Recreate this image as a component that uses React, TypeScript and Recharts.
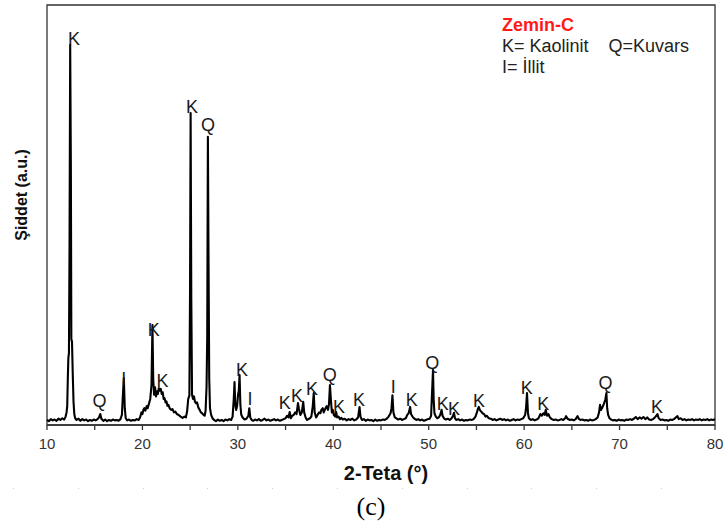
import { ComposedChart, Line, Scatter, XAxis, YAxis, ReferenceArea } from 'recharts';

// XRD scan, 2-theta vs intensity (a.u.)
const scanLowAngle: [number, number][] = [
  [10.0, 12], [10.2, 9], [10.4, 14], [10.6, 11], [10.8, 13], [11.0, 10], [11.2, 15], [11.4, 12],
  [11.6, 16], [11.8, 13], [11.95, 20], [12.05, 30], [12.12, 45], [12.18, 110], [12.24, 160],
  [12.3, 172], [12.36, 420], [12.43, 905], [12.5, 620], [12.55, 205], [12.62, 198], [12.7, 120],
  [12.78, 55], [12.86, 26], [12.95, 16], [13.1, 12], [13.3, 15], [13.5, 10], [13.7, 14], [13.9, 11],
  [14.1, 13], [14.3, 9], [14.5, 12], [14.7, 10], [14.9, 13], [15.1, 11], [15.3, 14], [15.45, 18],
  [15.58, 26], [15.7, 15], [15.9, 10], [16.1, 13], [16.3, 9], [16.5, 12], [16.7, 10], [16.9, 13],
  [17.1, 11], [17.3, 12], [17.5, 10], [17.7, 14], [17.85, 24], [17.95, 70], [18.05, 112], [18.15, 40],
  [18.25, 16], [18.4, 11], [18.6, 13], [18.8, 10], [19.0, 12], [19.2, 11], [19.4, 14], [19.6, 12],
  [19.75, 18], [19.9, 30],
];

const scanMainPeaks: [number, number][] = [
  [20.0, 26], [20.1, 36], [20.2, 40], [20.3, 34], [20.45, 45], [20.55, 40], [20.7, 52], [20.82, 62],
  [20.95, 95], [21.05, 238], [21.13, 110], [21.22, 72], [21.32, 90], [21.42, 68], [21.52, 80],
  [21.62, 74], [21.72, 88], [21.82, 82], [21.92, 86], [22.02, 74], [22.12, 78], [22.22, 62],
  [22.32, 64], [22.42, 54], [22.52, 56], [22.62, 46], [22.72, 48], [22.85, 40], [23.0, 36],
  [23.15, 38], [23.3, 30], [23.45, 32], [23.6, 26], [23.8, 24], [24.0, 20], [24.2, 17], [24.4, 20],
  [24.55, 18], [24.68, 32], [24.8, 62], [24.92, 70], [24.99, 320], [25.05, 743], [25.12, 300],
  [25.2, 72], [25.3, 62], [25.4, 68], [25.5, 56], [25.6, 52], [25.72, 54], [25.85, 42], [26.0, 36],
  [26.12, 30], [26.25, 28], [26.4, 24], [26.52, 22], [26.62, 34], [26.72, 92], [26.79, 210],
  [26.86, 686], [26.93, 380], [27.0, 110], [27.08, 40], [27.2, 24], [27.35, 16], [27.5, 12],
  [27.7, 9], [27.9, 13], [28.1, 10], [28.3, 12], [28.5, 9], [28.7, 13], [28.9, 11], [29.1, 14],
  [29.3, 12], [29.45, 20], [29.57, 62], [29.65, 102], [29.73, 48], [29.82, 36], [29.92, 45],
  [30.02, 72], [30.1, 82], [30.18, 119], [30.26, 50], [30.35, 25], [30.5, 18], [30.7, 13], [30.9, 15],
];

const scanMid: [number, number][] = [
  [31.1, 22], [31.2, 40], [31.3, 18], [31.45, 12], [31.6, 10], [31.8, 13], [32.0, 11], [32.2, 14],
  [32.4, 10], [32.6, 12], [32.8, 15], [33.0, 11], [33.2, 13], [33.4, 10], [33.6, 12], [33.8, 14],
  [34.0, 11], [34.2, 13], [34.4, 10], [34.6, 12], [34.8, 14], [35.0, 16], [35.15, 22], [35.3, 18],
  [35.43, 31], [35.55, 16], [35.7, 22], [35.85, 24], [36.0, 30], [36.15, 26], [36.3, 52], [36.4, 38],
  [36.55, 24], [36.7, 30], [36.85, 55], [36.95, 30], [37.1, 18], [37.25, 12], [37.4, 14], [37.55, 16],
  [37.7, 20], [37.85, 45], [37.95, 76], [38.05, 30], [38.2, 18], [38.35, 24], [38.5, 30], [38.65, 28],
  [38.75, 36], [38.9, 40], [39.0, 30], [39.15, 38], [39.3, 45], [39.45, 36], [39.55, 50], [39.65, 95],
  [39.75, 60], [39.85, 30], [39.95, 36], [40.05, 24], [40.2, 20], [40.3, 31], [40.4, 18], [40.55, 20],
  [40.7, 14], [40.85, 17], [41.0, 13], [41.2, 15], [41.4, 11], [41.6, 14], [41.8, 12], [42.0, 15],
  [42.2, 11], [42.4, 13], [42.6, 18], [42.75, 43], [42.85, 20], [43.0, 12], [43.2, 14], [43.4, 10],
  [43.6, 13], [43.8, 11], [44.0, 12], [44.2, 9], [44.4, 13], [44.6, 10], [44.8, 12], [45.0, 11],
  [45.2, 13], [45.4, 12], [45.6, 15], [45.8, 20], [46.0, 28], [46.1, 40], [46.2, 71], [46.3, 30],
  [46.45, 18], [46.6, 16], [46.8, 13], [47.0, 15], [47.2, 12], [47.4, 14], [47.6, 16], [47.75, 24],
  [47.9, 28], [48.05, 43], [48.15, 26], [48.3, 20], [48.5, 15], [48.7, 12], [48.9, 14], [49.1, 11],
  [49.3, 13], [49.5, 10], [49.7, 12], [49.9, 14],
];

const scanHigh: [number, number][] = [
  [50.1, 15], [50.25, 22], [50.35, 78], [50.45, 131], [50.52, 60], [50.6, 28], [50.75, 20], [50.9, 16],
  [51.05, 18], [51.2, 24], [51.35, 36], [51.45, 22], [51.6, 16], [51.8, 13], [52.0, 15], [52.2, 12],
  [52.4, 16], [52.55, 22], [52.65, 29], [52.75, 16], [52.9, 12], [53.1, 14], [53.3, 11], [53.5, 13],
  [53.7, 10], [53.9, 12], [54.1, 11], [54.3, 13], [54.5, 12], [54.7, 14], [54.9, 20], [55.05, 30],
  [55.15, 38], [55.25, 43], [55.35, 36], [55.5, 32], [55.65, 28], [55.8, 26], [55.95, 20], [56.1, 22],
  [56.3, 16], [56.5, 15], [56.7, 12], [56.9, 14], [57.1, 11], [57.3, 13], [57.5, 15], [57.7, 12],
  [57.9, 14], [58.1, 11], [58.3, 13], [58.5, 10], [58.7, 12], [58.9, 14], [59.1, 11], [59.3, 13],
  [59.5, 12], [59.7, 14], [59.9, 16], [60.1, 24], [60.2, 40], [60.3, 76], [60.4, 28], [60.5, 16],
  [60.7, 12], [60.9, 14], [61.1, 11], [61.3, 13], [61.5, 16], [61.7, 26], [61.85, 22], [62.0, 28],
  [62.15, 24], [62.26, 36], [62.4, 22], [62.55, 26], [62.7, 18], [62.9, 14], [63.1, 12], [63.3, 13],
  [63.5, 11], [63.7, 12], [63.9, 14], [64.1, 12], [64.3, 16], [64.4, 21], [64.55, 15], [64.8, 12],
  [65.0, 13], [65.2, 11], [65.4, 14], [65.6, 21], [65.75, 14], [65.9, 12], [66.1, 13], [66.3, 11],
  [66.5, 12], [66.7, 10], [66.9, 13], [67.1, 11], [67.3, 12], [67.5, 14], [67.7, 18], [67.85, 30],
  [67.95, 48], [68.05, 36], [68.2, 42], [68.35, 50], [68.5, 60], [68.62, 76], [68.7, 40], [68.8, 24],
  [68.95, 16], [69.1, 13], [69.3, 11], [69.5, 12], [69.7, 10], [69.9, 13], [70.1, 11], [70.3, 12],
  [70.5, 10], [70.7, 13], [70.9, 12], [71.1, 14], [71.3, 12], [71.5, 15], [71.7, 19], [71.9, 14],
  [72.1, 18], [72.3, 15], [72.5, 19], [72.7, 14], [72.9, 18], [73.1, 13], [73.3, 12], [73.5, 14],
  [73.7, 18], [73.85, 22], [73.97, 26], [74.1, 16], [74.3, 12], [74.5, 13], [74.7, 11], [74.9, 12],
  [75.1, 10], [75.3, 13], [75.5, 12], [75.7, 14], [75.9, 18], [76.07, 21], [76.2, 14], [76.4, 16],
  [76.6, 12], [76.8, 14], [77.0, 11], [77.2, 13], [77.4, 12], [77.6, 14], [77.8, 11], [78.0, 13],
  [78.2, 12], [78.4, 14], [78.6, 11], [78.8, 13], [79.0, 12], [79.2, 14], [79.4, 11], [79.6, 13],
  [79.8, 12], [80.0, 14],
];

// peak labels: mineral letter, label anchor (2-theta, intensity of text baseline)
const peakMinerals = ['K', 'Q', 'I', 'K', 'K', 'K', 'Q', 'K', 'I', 'K', 'K', 'K', 'Q', 'K', 'K', 'I', 'K', 'Q', 'K', 'K', 'K', 'K', 'K', 'Q', 'K'];
const peakAngles = [12.83, 15.5, 18.05, 21.2, 22.1, 25.2, 26.87, 30.43, 31.27, 34.92, 36.2, 37.77, 39.62, 40.6, 42.7, 46.29, 48.22, 50.36, 51.48, 52.65, 55.27, 60.27, 62.01, 68.53, 73.92];
const peakLabelLevels = [905, 43, 95, 212, 90, 743, 700, 117, 48, 38, 55, 71, 105, 29, 45, 76, 45, 133, 36, 24, 44, 74, 36, 86, 29];

const xTicks = [10, 15, 20, 25, 30, 35, 40, 45, 50, 55, 60, 65, 70, 75, 80];

const scan = [...scanLowAngle, ...scanMainPeaks, ...scanMid, ...scanHigh].map(([x, y]) => ({ x, y }));
const peakMarks = peakAngles.map((x, i) => ({ x, y: peakLabelLevels[i], mineral: peakMinerals[i] }));

const sans = '"Liberation Sans", Arial, sans-serif';
const axisColor = '#333';

function PeakLabel(props: any) {
  const { cx, cy, payload } = props;
  return (
    <text x={cx} y={cy} textAnchor="middle" fontFamily={sans} fontSize={18} fill="#1a1a1a">
      {payload.mineral}
    </text>
  );
}

export default function App() {
  return (
    <div style={{ position: 'absolute', left: 0, top: 0, width: 726, height: 529, background: '#fff', fontFamily: sans }}>
      <ComposedChart width={726} height={529} margin={{ top: 5, right: 11, left: 47, bottom: 74 }}>
        <XAxis
          dataKey="x"
          type="number"
          domain={[10, 80]}
          ticks={xTicks}
          tickFormatter={(v: number) => (v % 10 === 0 ? String(v) : '')}
          tickSize={5}
          tickMargin={8}
          height={30}
          stroke={axisColor}
          strokeWidth={1.3}
          tick={{ fontSize: 15, fill: '#333', fontFamily: sans }}
        />
        <YAxis type="number" domain={[0, 1000]} width={0} hide />
        {/* plot frame */}
        <ReferenceArea x1={10} x2={80} y1={0} y2={1000} fill="none" stroke={axisColor} strokeWidth={1.3} ifOverflow="visible" />
        <Line data={scan} dataKey="y" type="linear" stroke="#000" strokeWidth={2.1} strokeLinejoin="round" dot={false} isAnimationActive={false} />
        <Scatter data={peakMarks} dataKey="y" shape={<PeakLabel />} isAnimationActive={false} />
      </ComposedChart>

      <div style={{ position: 'absolute', left: 502, top: 15, fontSize: 18, lineHeight: '21px', color: '#222' }}>
        <div style={{ color: '#ff1a1a', fontWeight: 'bold' }}>Zemin-C</div>
        <div style={{ whiteSpace: 'pre' }}>K= Kaolinit{'    '}Q=Kuvars</div>
        <div>I= İllit</div>
      </div>

      <div
        style={{
          position: 'absolute', left: 22, top: 195, transform: 'translate(-50%, -50%) rotate(-90deg)',
          whiteSpace: 'nowrap', fontWeight: 'bold', fontSize: 16, color: '#111',
        }}
      >
        Şiddet (a.u.)
      </div>

      <div style={{ position: 'absolute', left: 386, top: 462, transform: 'translateX(-50%)', fontWeight: 'bold', fontSize: 20, color: '#111', whiteSpace: 'nowrap' }}>
        2-Teta (°)
      </div>

      <div
        style={{
          position: 'absolute', left: 13, top: 488, width: 700, height: 1,
          background: 'repeating-linear-gradient(to right, #d0d0d0 0 1px, transparent 1px 64.8px)',
        }}
      />

      <div style={{ position: 'absolute', left: 371, top: 492, transform: 'translateX(-50%)', fontFamily: '"Liberation Serif", "Times New Roman", serif', fontSize: 26, color: '#000' }}>
        (c)
      </div>
    </div>
  );
}
